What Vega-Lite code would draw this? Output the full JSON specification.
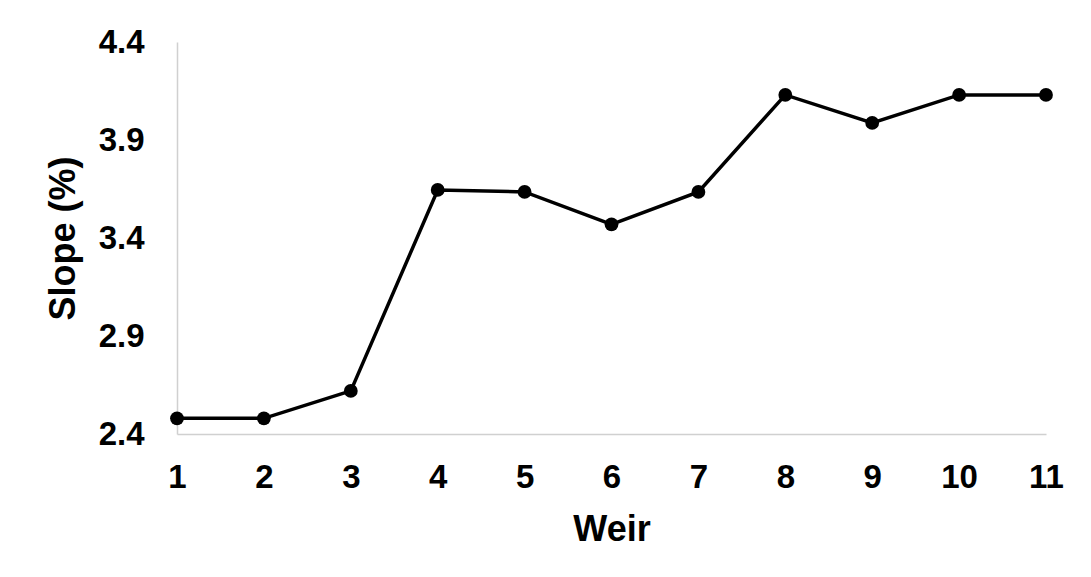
{
  "$schema": "https://vega.github.io/schema/vega-lite/v6.json",
  "width": 869,
  "height": 392,
  "autosize": {"type": "none"},
  "padding": {"left": 177, "top": 42, "right": 45, "bottom": 143},
  "background": "white",
  "config": {
    "view": {"stroke": null},
    "font": "Liberation Sans"
  },
  "data": {
    "values": [
      {"weir": 1, "slope": 2.48},
      {"weir": 2, "slope": 2.48},
      {"weir": 3, "slope": 2.62},
      {"weir": 4, "slope": 3.645},
      {"weir": 5, "slope": 3.635},
      {"weir": 6, "slope": 3.47},
      {"weir": 7, "slope": 3.635},
      {"weir": 8, "slope": 4.13},
      {"weir": 9, "slope": 3.987},
      {"weir": 10, "slope": 4.13},
      {"weir": 11, "slope": 4.13}
    ]
  },
  "encoding": {
    "x": {
      "field": "weir",
      "type": "quantitative",
      "scale": {"domain": [1, 11], "nice": false, "zero": false},
      "axis": {
        "title": "Weir",
        "values": [1, 2, 3, 4, 5, 6, 7, 8, 9, 10, 11],
        "format": "d",
        "grid": false,
        "ticks": false,
        "domainColor": "#d0d0d0",
        "domainWidth": 1.5,
        "labelFont": "Liberation Sans",
        "labelFontSize": 33,
        "labelFontWeight": "bold",
        "labelColor": "black",
        "labelPadding": 27,
        "labelFlush": false,
        "labelOverlap": false,
        "titleFont": "Liberation Sans",
        "titleFontSize": 36,
        "titleFontWeight": "bold",
        "titleColor": "black",
        "titlePadding": 18
      }
    },
    "y": {
      "field": "slope",
      "type": "quantitative",
      "scale": {"domain": [2.4, 4.4], "nice": false, "zero": false},
      "axis": {
        "title": "Slope (%)",
        "values": [2.4, 2.9, 3.4, 3.9, 4.4],
        "format": ".1f",
        "grid": false,
        "ticks": false,
        "domainColor": "#d0d0d0",
        "domainWidth": 1.5,
        "labelFont": "Liberation Sans",
        "labelFontSize": 33,
        "labelFontWeight": "bold",
        "labelColor": "black",
        "labelPadding": 33,
        "labelFlush": false,
        "labelOverlap": false,
        "titleFont": "Liberation Sans",
        "titleFontSize": 36,
        "titleFontWeight": "bold",
        "titleColor": "black",
        "titlePadding": 16
      }
    }
  },
  "layer": [
    {"mark": {"type": "line", "color": "black", "strokeWidth": 3.5}},
    {"mark": {"type": "point", "filled": true, "color": "black", "opacity": 1, "size": 190}}
  ]
}
